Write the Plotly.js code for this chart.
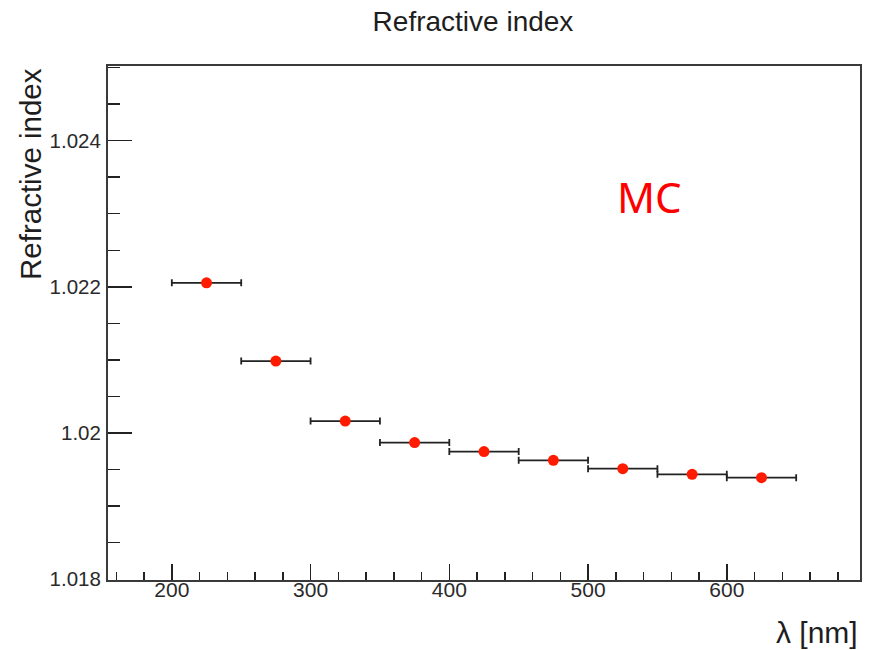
<!DOCTYPE html>
<html>
<head>
<meta charset="utf-8">
<script src="https://cdn.plot.ly/plotly-3.0.1.min.js"></script>
<style>html,body{margin:0;padding:0;background:#fff;}#chart{width:869px;height:650px;}</style>
</head>
<body>
<div id="chart"></div>
<script>
const wavelength = [225, 275, 325, 375, 425, 475, 525, 575, 625];
const binHalfWidth = [25, 25, 25, 25, 25, 25, 25, 25, 25];
const refractiveIndex = [1.022055, 1.020984, 1.020164, 1.019869, 1.019746, 1.019627, 1.019513, 1.019435, 1.01939];
const yTickVals = [1.018, 1.020, 1.022, 1.024];
const yTickText = ["1.018", "1.02", "1.022", "1.024"];
const xTickVals = [200, 300, 400, 500, 600];
const xTickText = ["200", "300", "400", "500", "600"];

const axisColor = '#3a3a3a';
const textColor = '#1e1e1e';
const fontFam = '"Liberation Sans", Arial, sans-serif';

const trace = {
  x: wavelength,
  y: refractiveIndex,
  type: 'scatter',
  mode: 'markers',
  marker: {color: '#ff1a00', size: 11, line: {width: 0}},
  error_x: {type: 'data', array: binHalfWidth, visible: true, color: '#222', thickness: 1.8, width: 3.5},
  hoverinfo: 'x+y'
};

const layout = {
  width: 869, height: 650,
  margin: {l: 108, r: 9, t: 66, b: 70},
  paper_bgcolor: '#fff', plot_bgcolor: '#fff',
  showlegend: false,
  font: {family: fontFam, color: textColor},
  title: {text: 'Refractive index', font: {family: fontFam, size: 28, color: textColor},
          x: 473/869, xanchor: 'center', xref: 'container', y: 1 - 21/650, yanchor: 'middle', yref: 'container'},
  xaxis: {
    range: [154, 696], showgrid: false, zeroline: false,
    showline: true, linecolor: axisColor, linewidth: 2, mirror: true,
    tickmode: 'array', tickvals: xTickVals, ticktext: xTickText,
    ticks: 'inside', ticklen: 16, tickwidth: 1.5, tickcolor: '#222',
    tickfont: {family: fontFam, size: 21, color: '#2a2a2a'},
    ticklabelstandoff: -10,
    minor: {tick0: 0, dtick: 20, ticks: 'inside', ticklen: 8, tickwidth: 1.5, tickcolor: '#222', showgrid: false}
  },
  yaxis: {
    range: [1.01799, 1.02502], showgrid: false, zeroline: false,
    showline: true, linecolor: axisColor, linewidth: 2, mirror: true,
    tickmode: 'array', tickvals: yTickVals, ticktext: yTickText,
    ticks: 'inside', ticklen: 24, tickwidth: 1.5, tickcolor: '#222',
    tickfont: {family: fontFam, size: 20.5, color: '#2a2a2a'},
    ticklabelstandoff: 1,
    minor: {tick0: 1.018, dtick: 0.0005, ticks: 'inside', ticklen: 12, tickwidth: 1.5, tickcolor: '#222', showgrid: false}
  },
  annotations: [
    {text: 'Refractive index', textangle: -90, xref: 'paper', yref: 'paper',
     x: (30 - 108) / 752, y: 1.0, xanchor: 'center', yanchor: 'top', showarrow: false,
     font: {family: fontFam, size: 29.5, color: textColor}},
    {text: 'λ [nm]', xref: 'paper', yref: 'paper', x: 1.0, y: (580 - 632) / 514,
     xanchor: 'right', yanchor: 'middle', showarrow: false,
     font: {family: fontFam, size: 30, color: textColor}},
    {text: 'MC', xref: 'paper', yref: 'paper', x: (649 - 108) / 752, y: (580 - 196) / 514,
     xanchor: 'center', yanchor: 'middle', showarrow: false,
     font: {family: '"Noto Sans", "Open Sans", sans-serif', size: 42, color: '#ff0000'}}
  ]
};

Plotly.newPlot('chart', [trace], layout, {displayModeBar: false, staticPlot: true});
</script>
</body>
</html>
